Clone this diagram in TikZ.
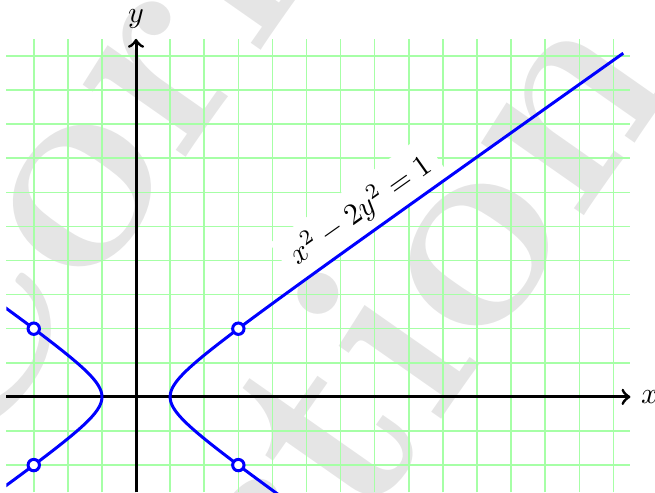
\documentclass[tikz,border=0pt]{standalone}
\usetikzlibrary{arrows}
\begin{document}
\begin{tikzpicture}[x=0.4cm,y=0.4cm,
  wm/.style={text=black!10, inner sep=0pt, anchor=base west, rotate=55,
    font=\fontsize{95}{110}\selectfont\bfseries},
  gridline/.style={draw=green!35, line width=0.5pt, step=0.4cm},
  axisline/.style={draw=black, line width=1pt, ->},
  curve/.style={draw=blue, line width=1pt},
  ptmark/.style={circle, draw=blue, fill=white, line width=1pt, inner sep=0pt, minimum size=3.8pt},
  eqlabel/.style={fill=white, rotate=35.26}
]
\useasboundingbox (-3.99,-2.815) rectangle (15.22,11.64);
% watermark
\begin{scope}
  \clip (-3.99,-2.815) rectangle (15.22,11.64);
  \node[wm] (wm1) at (-5.287,-2.651) {Correction};
  \node[wm] (wm2) at (-9.196,-26.6) {Correction};
\end{scope}
% grid
\draw[gridline] (-3.8,-2.8) grid (14.5,10.5);
% label
\node[eqlabel] (eq) at (6.57,5.48) {$x^2-2y^2=1$};
% axes
\coordinate (xs) at (-3.8,0);
\coordinate (xe) at (14.5,0);
\coordinate (ys) at (0,-2.8);
\coordinate (ye) at (0,10.5);
\draw[axisline] (xs) -- (xe);
\draw[axisline] (ys) -- (ye);
\node[right] (xl) at (xe) {$x$};
\node[above] (yl) at (ye) {$y$};
% hyperbola
\begin{scope}
  \clip (-3.8,-2.8) rectangle (14.5,10.5);
  \draw[curve] plot[domain=-3.352:3.352, samples=160, smooth] ({cosh(\x)},{sinh(\x)/sqrt(2)});
  \draw[curve] plot[domain=-3.352:3.352, samples=160, smooth] ({-cosh(\x)},{sinh(\x)/sqrt(2)});
\end{scope}
% points
\node[ptmark] (p1) at (3,2) {};
\node[ptmark] (p2) at (3,-2) {};
\node[ptmark] (p3) at (-3,2) {};
\node[ptmark] (p4) at (-3,-2) {};
\end{tikzpicture}
\end{document}
